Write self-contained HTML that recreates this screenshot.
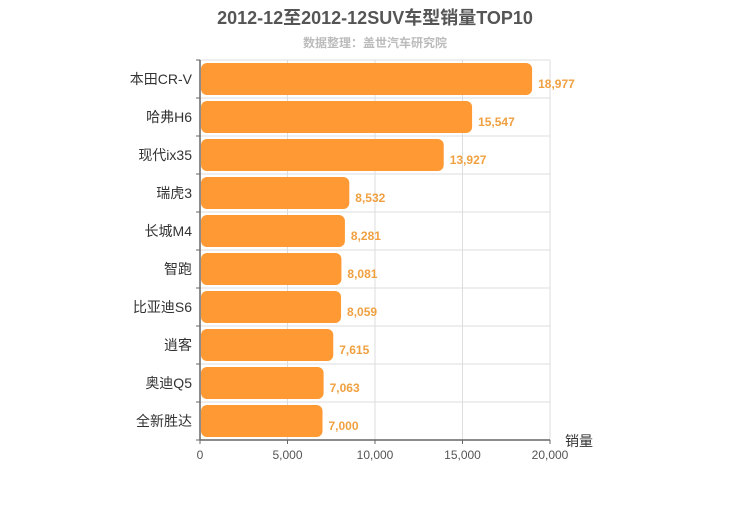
<!DOCTYPE html>
<html><head><meta charset="utf-8"><style>
body{margin:0;background:#fff;font-family:"Liberation Sans","Noto Sans CJK SC",sans-serif}
</style></head><body>
<svg id="c" width="750" height="500" xmlns="http://www.w3.org/2000/svg" style="font-family:'Liberation Sans','Noto Sans CJK SC',sans-serif">
<text x="375" y="24" text-anchor="middle" font-size="18" font-weight="bold" fill="#555">2012-12至2012-12SUV车型销量TOP10</text>
<text x="375" y="47" text-anchor="middle" font-size="12" font-weight="bold" fill="#bbb">数据整理：盖世汽车研究院</text>
<g id="grid"></g><g id="bars"></g><g id="axes"></g>
</svg>
<script>
const categories=["本田CR-V","哈弗H6","现代ix35","瑞虎3","长城M4","智跑","比亚迪S6","逍客","奥迪Q5","全新胜达"];
const values=[18977,15547,13927,8532,8281,8081,8059,7615,7063,7000];
const ticks=[0,5000,10000,15000,20000];
const NS="http://www.w3.org/2000/svg";
const x0=200,x1=550,yTop=60,yBot=440,rh=(yBot-yTop)/categories.length;
const xs=v=>x0+v/20000*(x1-x0);
const fmt=v=>v.toLocaleString("en-US");
function el(t,a,p,txt){const e=document.createElementNS(NS,t);for(const k in a)e.setAttribute(k,a[k]);if(txt!=null)e.textContent=txt;document.getElementById(p).appendChild(e);return e;}
ticks.forEach(t=>{
 const g=el("line",{x1:xs(t),x2:xs(t),y1:yTop,y2:yBot,stroke:"#ddd"},"grid");
 
 
 const l=el("text",{x:xs(t),y:yBot+19,"text-anchor":"middle","font-size":12,fill:"#555"},"axes",fmt(t));
 
 
 const tk=el("line",{x1:xs(t),x2:xs(t),y1:yBot,y2:yBot+4,stroke:"#666"},"axes");
 
 
});
for(let i=0;i<=categories.length;i++){
 const y=yTop+i*rh;
 const g=el("line",{x1:x0,x2:x1,y1:y,y2:y,stroke:"#ddd"},"grid");
 
 
 const tk=el("line",{x1:x0-4,x2:x0,y1:y,y2:y,stroke:"#666"},"axes");
 
 
}
categories.forEach((c,i)=>{
 const yc=yTop+i*rh+rh/2;
 const b=el("rect",{x:x0+1,y:yc-16,width:xs(values[i])-x0-1,height:32,rx:6,fill:"#ff9933"},"bars");
 
 
 const v=el("text",{x:xs(values[i])+6,y:yc+9,"font-size":12,"font-weight":"bold",fill:"#f0a040"},"bars",fmt(values[i]));
 
 
 const l=el("text",{x:x0-8,y:yc+5,"text-anchor":"end","font-size":14,fill:"#333"},"axes",c);
 
 
});
const ax=el("line",{x1:x0,x2:x0,y1:yTop,y2:yBot,stroke:"#666","stroke-width":1.5},"axes");


const bx=el("line",{x1:x0,x2:x1,y1:yBot,y2:yBot,stroke:"#666","stroke-width":1.5},"axes");


const xt=el("text",{x:565,y:446,"font-size":14,fill:"#333"},"axes","销量");


</script>
</body></html>
